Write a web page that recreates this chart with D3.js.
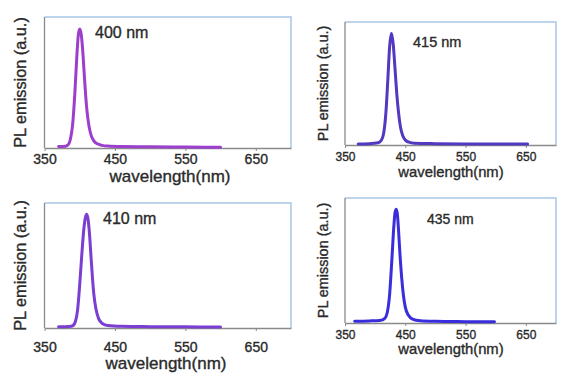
<!DOCTYPE html>
<html><head><meta charset="utf-8">
<script src="https://cdn.jsdelivr.net/npm/d3@7/dist/d3.min.js"></script>
<style>body{margin:0;background:#fff}svg{display:block}text{font-family:"Liberation Sans",Arial,sans-serif;fill:#2a2a2a;stroke:#2a2a2a;stroke-width:0.35px}</style>
</head><body><svg id="c" width="570" height="380"></svg>
<script>
// ---- data ----
const xTicks = [350, 450, 550, 650];
const xTitle = "wavelength(nm)";
const yTitle = "PL emission (a.u.)";
const peakLabels = ["400 nm", "415 nm", "410 nm", "435 nm"];

const wl1 = [370,380,384,387,390,393,396,398,400,402,404,406,408,410,413,416,420,425,432,440,460,500,550,600];
const pl1 = [0.012,0.015,0.03,0.08,0.2,0.45,0.78,0.95,1.0,0.96,0.84,0.66,0.48,0.33,0.19,0.11,0.06,0.035,0.022,0.016,0.012,0.01,0.008,0.006];

const wl2 = [372,390,405,410,414,418,421,424,427,430,433,436,439,442,446,450,456,465,500,550,600,653];
const pl2 = [0.01,0.012,0.02,0.04,0.1,0.3,0.58,0.88,1.0,0.9,0.68,0.45,0.28,0.16,0.08,0.045,0.025,0.015,0.012,0.01,0.009,0.008];

const wl3 = [370,385,390,394,397,400,403,406,408,410,412,414,416,418,420,423,427,432,440,460,500,550,600];
const pl3 = [0.012,0.014,0.02,0.06,0.16,0.38,0.65,0.88,0.97,1.0,0.95,0.82,0.63,0.45,0.3,0.17,0.08,0.04,0.022,0.015,0.012,0.01,0.008];

const wl4 = [366,390,410,416,420,424,428,431,433,435,437,439,441,444,447,450,455,462,475,500,550,598];
const pl4 = [0.015,0.018,0.025,0.04,0.09,0.25,0.58,0.85,0.97,1.0,0.95,0.8,0.62,0.4,0.24,0.14,0.07,0.035,0.02,0.015,0.012,0.01];

// ---- layout ----
const panels = [
  {wl: wl1, pl: pl1, label: peakLabels[0], color: "#9c3fcc", l: 44.5, r: 291, t: 17, b: 148, tickFs: 14, titleFs: 17, yFs: 16.3, labFs: 16,
   tickY: 164, titleY: 182, titleX: 170, yX: 20, labX: 95, labY: 38},
  {wl: wl2, pl: pl2, label: peakLabels[1], color: "#5338c0", l: 345, r: 556, t: 22, b: 145, tickFs: 12, titleFs: 14.8, yFs: 14.4, labFs: 14.5,
   tickY: 161, titleY: 177, titleX: 451, yX: 323, labX: 413, labY: 47},
  {wl: wl3, pl: pl3, label: peakLabels[2], color: "#7b3ed2", l: 44.5, r: 291, t: 203, b: 328, tickFs: 14, titleFs: 17, yFs: 16.3, labFs: 16,
   tickY: 352, titleY: 369, titleX: 166, yX: 20, labX: 103, labY: 224},
  {wl: wl4, pl: pl4, label: peakLabels[3], color: "#3a2ddc", l: 345, r: 556, t: 198, b: 323, tickFs: 12, titleFs: 14.8, yFs: 14.4, labFs: 14,
   tickY: 339, titleY: 354, titleX: 451, yX: 323, labX: 427, labY: 224}
];

const svg = d3.select("#c");

panels.forEach(p => {
  const x = d3.scaleLinear().domain([350, 700]).range([p.l, p.r]);
  const y = d3.scaleLinear().domain([0, 1.1]).range([p.b, p.t]);
  const g = svg.append("g");

  // frame top/right (light blue)
  g.append("path")
    .attr("d", `M${x(350)},${y(1.1)}H${x(700)}V${y(0)}`)
    .attr("fill", "none").attr("stroke", "#a9c6e6").attr("stroke-width", 1.5);
  // left axis (gray)
  g.append("line").attr("x1", x(350)).attr("x2", x(350)).attr("y1", y(1.1)).attr("y2", y(0))
    .attr("stroke", "#8a8a8a").attr("stroke-width", 1.3);

  // bottom axis
  const ax = g.append("g").attr("transform", `translate(0,${y(0)})`)
    .call(d3.axisBottom(x).tickValues(xTicks).tickSize(3).tickSizeOuter(0).tickFormat(d3.format("d")));
  ax.select(".domain").attr("stroke", "#8a8a8a").attr("stroke-width", 1.3);
  ax.selectAll(".tick line").attr("stroke", "#8a8a8a");
  ax.selectAll(".tick text").attr("font-size", p.tickFs).attr("fill", "#2a2a2a")
    .attr("y", p.tickY - y(0)).attr("dy", 0)
    .style("font-family", '"Liberation Sans",Arial,sans-serif');

  // curve
  const line = d3.line().x((d, i) => x(p.wl[i])).y((d, i) => y(p.pl[i])).curve(d3.curveMonotoneX);
  g.append("path").datum(p.wl).attr("d", line)
    .attr("fill", "none").attr("stroke", p.color).attr("stroke-width", 3)
    .attr("stroke-linejoin", "round").attr("stroke-linecap", "round");

  // titles
  g.append("text").attr("x", p.titleX).attr("y", p.titleY).attr("text-anchor", "middle")
    .attr("font-size", p.titleFs).text(xTitle);
  const yc = (y(0) + y(1.1)) / 2;
  g.append("text").attr("transform", `translate(${p.yX},${yc}) rotate(-90)`)
    .attr("text-anchor", "middle").attr("dy", "0.35em").attr("font-size", p.yFs).text(yTitle);
  g.append("text").attr("x", p.labX).attr("y", p.labY).attr("font-size", p.labFs).text(p.label);
});
</script></body></html>
